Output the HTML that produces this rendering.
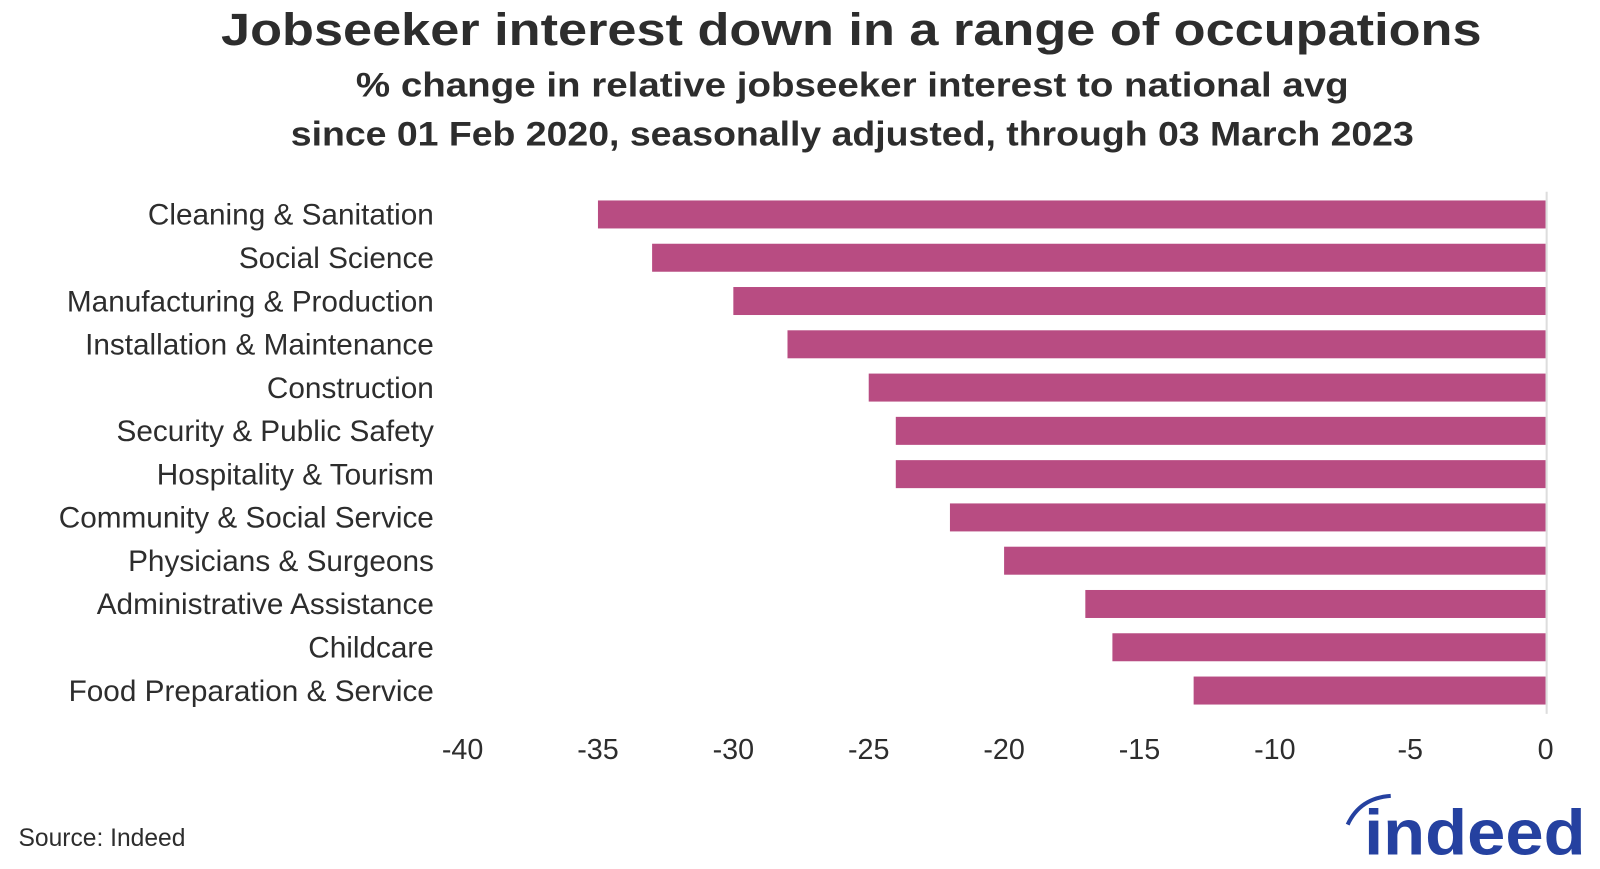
<!DOCTYPE html>
<html><head><meta charset="utf-8"><style>
html,body{margin:0;padding:0;background:#fff;}
svg{display:block;font-family:"Liberation Sans",sans-serif;}
</style></head><body>
<svg width="1600" height="869" viewBox="0 0 1560 847.3">
<text x="830" y="44" text-anchor="middle" font-size="44" font-weight="bold" fill="#2d2d2d" textLength="1229" lengthAdjust="spacingAndGlyphs">Jobseeker interest down in a range of occupations</text>
<text x="831" y="94" text-anchor="middle" font-size="33" font-weight="bold" fill="#2d2d2d" textLength="968" lengthAdjust="spacingAndGlyphs">% change in relative jobseeker interest to national avg</text>
<text x="831" y="142" text-anchor="middle" font-size="33" font-weight="bold" fill="#2d2d2d" textLength="1095" lengthAdjust="spacingAndGlyphs">since 01 Feb 2020, seasonally adjusted, through 03 March 2023</text>
<g id="plot"></g>
<text x="18" y="825" font-size="24" fill="#2d2d2d">Source: Indeed</text>
<g>
<path d="M1314,804 Q1326,778 1356,776" fill="none" stroke="#2541a0" stroke-width="4"/>
<text x="1330" y="833" font-size="62" font-weight="bold" fill="#2541a0" textLength="216" lengthAdjust="spacingAndGlyphs">indeed</text>
</g>
</svg>
<script>
const categories=["Cleaning & Sanitation","Social Science","Manufacturing & Production","Installation & Maintenance","Construction","Security & Public Safety","Hospitality & Tourism","Community & Social Service","Physicians & Surgeons","Administrative Assistance","Childcare","Food Preparation & Service"];
const values=[-35,-33,-30,-28,-25,-24,-24,-22,-20,-17,-16,-13];
const ticks=[-40,-35,-30,-25,-20,-15,-10,-5,0];
const NS="http://www.w3.org/2000/svg";
const g=document.getElementById('plot');
const x0=451,x1=1507,vmin=-40,vmax=0;
function xs(v){return x0+(v-vmin)/(vmax-vmin)*(x1-x0);}
const top0=188,step=42.2,bh=27.3;
function yc(i){return top0+step*(i+0.5);}
function mk(t,a){const e=document.createElementNS(NS,t);for(const k in a)e.setAttribute(k,a[k]);g.appendChild(e);return e;}
categories.forEach((c,i)=>{
  const v=values[i];
  const r=mk('rect',{x:xs(Math.min(v,0)),y:yc(i)-bh/2,width:Math.abs(xs(v)-xs(0)),height:bh,fill:'#b84c82'});
  
  
  const t=mk('text',{x:423,y:yc(i)+10,'text-anchor':'end','font-size':29,fill:'#2d2d2d'});
  t.textContent=c;
  
  
});
const zl=mk('line',{x1:xs(0)+1,x2:xs(0)+1,y1:187,y2:696,stroke:'#dddddd','stroke-width':2});


ticks.forEach(v=>{
  const t=mk('text',{x:xs(v),y:740,'text-anchor':'middle','font-size':28,fill:'#2d2d2d'});
  t.textContent=String(v);
  
  
});
</script>
</body></html>
